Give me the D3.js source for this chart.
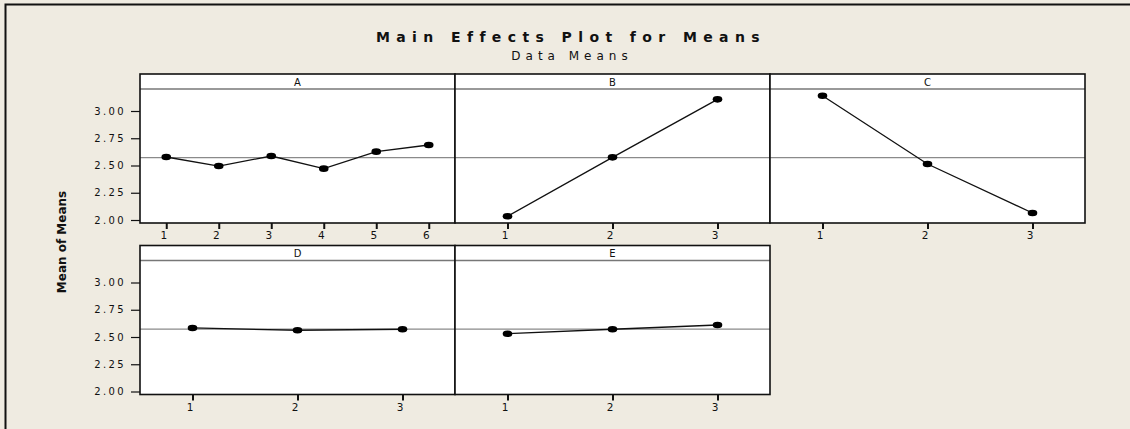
<!doctype html>
<html lang="en">
<head>
<meta charset="utf-8" />
<title>Main Effects Plot for Means</title>
<style>
  body { margin: 0; background: #efebe1; }
  svg { display: block; }
  text { font-family: "DejaVu Sans", Verdana, sans-serif; fill: #111; }
</style>
</head>
<body>
<div id="chart"></div>
<script src="https://cdn.jsdelivr.net/npm/d3@7/dist/d3.min.js"></script>
<script>
// factor names and level means
var factors = ["A", "B", "C", "D", "E"];
var levelsA = [1, 2, 3, 4, 5, 6];
var levels3 = [1, 2, 3];
var meansA = [2.578, 2.495, 2.587, 2.471, 2.627, 2.688];
var meansB = [2.034, 2.575, 3.107];
var meansC = [3.140, 2.514, 2.064];
var meansD = [2.583, 2.562, 2.571];
var meansE = [2.530, 2.571, 2.610];
var grandMean = 2.572;
var yTicks = [2.00, 2.25, 2.50, 2.75, 3.00];

var panels = [
  { name: "A", levels: levelsA, means: meansA, row: 0, col: 0 },
  { name: "B", levels: levels3, means: meansB, row: 0, col: 1 },
  { name: "C", levels: levels3, means: meansC, row: 0, col: 2 },
  { name: "D", levels: levels3, means: meansD, row: 1, col: 0 },
  { name: "E", levels: levels3, means: meansE, row: 1, col: 1 }
];

var W = 1130, H = 429;
var left = 140, pw = 315;
var rowTop = [74, 245.5];   // strip top per row
var stripH = 15, plotH = 134;

var svg = d3.select("#chart").append("svg").attr("width", W).attr("height", H);

svg.append("rect").attr("x", 0).attr("y", 0).attr("width", W).attr("height", H).attr("fill", "#efebe1");
// outer frame (runs off the right and bottom)
svg.append("path").attr("d", "M5.5," + (H + 2) + "V4.5H" + (W + 2))
  .attr("fill", "none").attr("stroke", "#111").attr("stroke-width", 2);

svg.append("text").attr("x", 571).attr("y", 42).attr("text-anchor", "middle")
  .style("font-size", "14px").style("font-weight", "bold").style("letter-spacing", "6.4px")
  .text("Main Effects Plot for Means");
svg.append("text").attr("x", 572).attr("y", 60).attr("text-anchor", "middle")
  .style("font-size", "12px").style("letter-spacing", "5px")
  .text("Data Means");

svg.append("text").attr("transform", "translate(66,242) rotate(-90)").attr("text-anchor", "middle")
  .style("font-size", "12px").style("font-weight", "bold")
  .text("Mean of Means");

panels.forEach(function (p) {
  var x0 = left + p.col * pw;
  var top = rowTop[p.row] + stripH;
  var g = svg.append("g");

  var x = d3.scaleLinear().domain([0.5, p.levels.length + 0.5]).range([x0, x0 + pw]);
  var y = d3.scaleLinear().domain([3.0, 2.0]).range([top + 22, top + 131]);

  g.append("rect").attr("x", x0).attr("y", rowTop[p.row]).attr("width", pw).attr("height", stripH + plotH)
    .attr("fill", "#fff");

  // y axis only on first column
  if (p.col === 0) {
    var ya = g.append("g").attr("transform", "translate(" + x0 + ",0)")
      .call(d3.axisLeft(y).tickValues(yTicks).tickSize(9).tickPadding(5).tickFormat(d3.format(".2f")));
    ya.select(".domain").remove();
    ya.selectAll("line").attr("stroke", "#111").attr("stroke-width", 1.2);
    ya.selectAll("text").style("font-size", "10px").style("letter-spacing", "2.4px")
      .style("font-family", "'DejaVu Sans', sans-serif").attr("fill", "#222");
  }

  var xa = g.append("g").attr("transform", "translate(0," + (top + plotH) + ")")
    .call(d3.axisBottom(x).tickValues(p.levels).tickSize(6).tickPadding(3).tickFormat(d3.format("d")));
  xa.select(".domain").remove();
  xa.selectAll("line").attr("stroke", "#111").attr("stroke-width", 2);
  xa.selectAll("text").style("font-size", "10.5px").attr("dx", "-3").attr("fill", "#222")
    .style("font-family", "'DejaVu Sans', sans-serif");

  // grand mean reference line
  g.append("line").attr("x1", x0).attr("x2", x0 + pw).attr("y1", y(grandMean)).attr("y2", y(grandMean))
    .attr("stroke", "#8a8a8a").attr("stroke-width", 1.2);

  var pts = p.levels.map(function (l, i) { return [l, p.means[i]]; });
  g.append("path").datum(pts)
    .attr("d", d3.line().x(function (d) { return x(d[0]); }).y(function (d) { return y(d[1]); }))
    .attr("fill", "none").attr("stroke", "#111").attr("stroke-width", 1.3);
  g.selectAll("ellipse").data(pts).enter().append("ellipse")
    .attr("cx", function (d) { return x(d[0]); }).attr("cy", function (d) { return y(d[1]); })
    .attr("rx", 4.8).attr("ry", 3.3).attr("fill", "#000");

  // strip
  g.append("line").attr("x1", x0).attr("x2", x0 + pw).attr("y1", top).attr("y2", top)
    .attr("stroke", "#777").attr("stroke-width", 1.3);
  g.append("text").attr("x", x0 + pw / 2).attr("y", rowTop[p.row] + 11.5).attr("text-anchor", "middle")
    .style("font-size", "10px").text(p.name);

  g.append("rect").attr("x", x0).attr("y", rowTop[p.row]).attr("width", pw).attr("height", stripH + plotH)
    .attr("fill", "none").attr("stroke", "#111").attr("stroke-width", 1.6);
});
</script>
</body>
</html>
